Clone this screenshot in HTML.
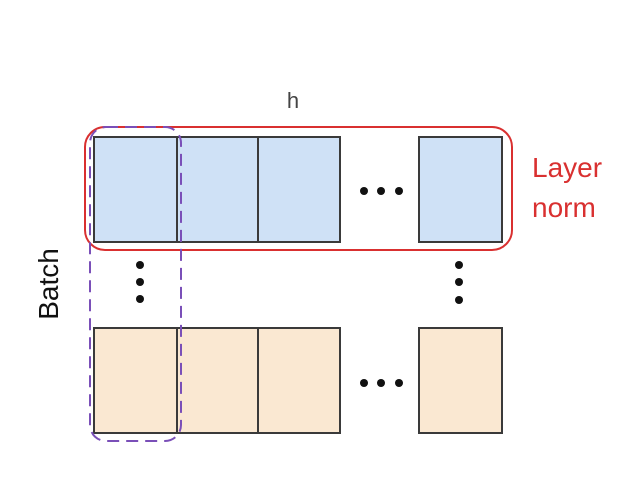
<!DOCTYPE html>
<html><head><meta charset="utf-8"><style>
html,body{margin:0;padding:0;background:#fff;}
svg{display:block;}
</style></head><body>
<svg width="640" height="503" viewBox="0 0 640 503" xmlns="http://www.w3.org/2000/svg" font-family="Liberation Sans, DejaVu Sans, sans-serif">
<rect width="640" height="503" fill="#fff"/>
<g stroke="#3a3a3a" stroke-width="2">
<rect x="94" y="137" width="83" height="105" fill="#cfe1f6"/>
<rect x="177" y="137" width="81" height="105" fill="#cfe1f6"/>
<rect x="258" y="137" width="82" height="105" fill="#cfe1f6"/>
<rect x="419" y="137" width="83" height="105" fill="#cfe1f6"/>
<rect x="94" y="328" width="83" height="105" fill="#fae8d2"/>
<rect x="177" y="328" width="81" height="105" fill="#fae8d2"/>
<rect x="258" y="328" width="82" height="105" fill="#fae8d2"/>
<rect x="419" y="328" width="83" height="105" fill="#fae8d2"/>
</g>
<rect x="85" y="127" width="427" height="123" rx="20" ry="20" fill="none" stroke="#d93030" stroke-width="2"/>
<rect x="90" y="127" width="91" height="314" rx="16" ry="16" fill="none" stroke="#7a4fb8" stroke-width="2" stroke-dasharray="12,7"/>
<g fill="#111">
<circle cx="364" cy="191" r="4"/><circle cx="381" cy="191" r="4"/><circle cx="399" cy="191" r="4"/>
<circle cx="364" cy="383" r="4"/><circle cx="381" cy="383" r="4"/><circle cx="399" cy="383" r="4"/>
<circle cx="140" cy="265" r="4"/><circle cx="140" cy="282" r="4"/><circle cx="140" cy="299" r="4"/>
<circle cx="459" cy="265" r="4"/><circle cx="459" cy="282" r="4"/><circle cx="459" cy="300" r="4"/>
</g>
<text x="293" y="108" font-size="22" fill="#444" text-anchor="middle">h</text>
<text x="532" y="177" font-size="28" fill="#d93030">Layer</text>
<text x="532" y="217" font-size="28" fill="#d93030">norm</text>
<text transform="translate(58,284) rotate(-90)" font-size="28" fill="#111" text-anchor="middle">Batch</text>
</svg>
</body></html>
